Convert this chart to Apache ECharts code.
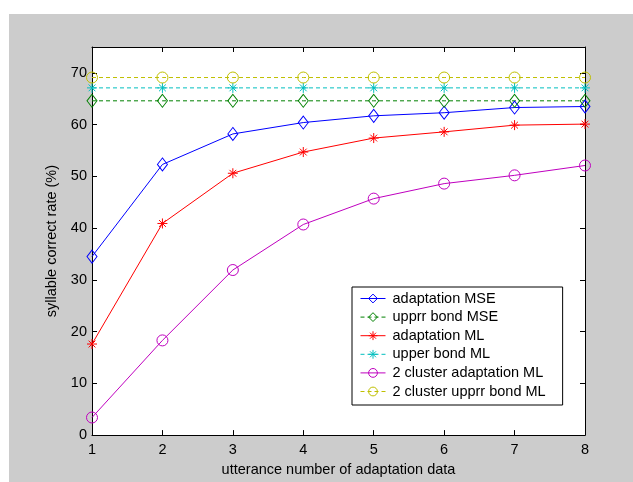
<!DOCTYPE html>
<html>
<head>
<meta charset="utf-8">
<script src="https://cdn.jsdelivr.net/npm/echarts@6/dist/echarts.min.js"></script>
<style>
html,body{margin:0;padding:0;background:#fff;}
#c{width:633px;height:482px;}
</style>
</head>
<body>
<div id="c"></div>
<script>
var xValues = [1, 2, 3, 4, 5, 6, 7, 8];
var xTicks = [1, 2, 3, 4, 5, 6, 7, 8];
var yTicks = [0, 10, 20, 30, 40, 50, 60, 70];
var seriesNames = ['adaptation MSE', 'upprr bond MSE', 'adaptation ML', 'upper bond ML', '2 cluster adaptation ML', '2 cluster upprr bond ML'];
var adaptMSE = [34.5, 52.3, 58.2, 60.4, 61.7, 62.3, 63.3, 63.5];
var upperMSE = [64.6, 64.6, 64.6, 64.6, 64.6, 64.6, 64.6, 64.6];
var adaptML = [17.6, 40.9, 50.6, 54.7, 57.4, 58.6, 59.9, 60.1];
var upperML = [67.1, 67.1, 67.1, 67.1, 67.1, 67.1, 67.1, 67.1];
var cluster2Adapt = [3.4, 18.3, 31.9, 40.7, 45.7, 48.6, 50.2, 52.1];
var cluster2Upper = [69.1, 69.1, 69.1, 69.1, 69.1, 69.1, 69.1, 69.1];

var FONT = "'Liberation Sans', Arial, sans-serif";
var FS = 14.5;
var DIAMOND = 'path://M5,0L10,6.5L5,13L0,6.5Z';
var STAR = 'path://M5,0L5,10M0,5L10,5M1.6,1.6L8.4,8.4M8.4,1.6L1.6,8.4';

function pairs(ys) {
  return xValues.map(function (x, i) { return [x, ys[i]]; });
}
function mk(name, ys, color, dashed, symbol, size) {
  return {
    name: name,
    type: 'line',
    data: pairs(ys),
    symbol: symbol,
    symbolSize: size,
    showSymbol: true,
    lineStyle: { color: color, width: 1, type: dashed ? [4, 3] : 'solid' },
    itemStyle: { color: 'rgba(0,0,0,0)', borderColor: color, borderWidth: 1 },
    emphasis: { disabled: true },
    z: 3
  };
}

var chart = echarts.init(document.getElementById('c'), null, { renderer: 'canvas' });
var axisCommon = {
  type: 'value',
  axisLine: { show: true, onZero: false, lineStyle: { color: '#000', width: 1 } },
  axisTick: { show: true, inside: true, length: 5, lineStyle: { color: '#000', width: 1 } },
  splitLine: { show: false }
};
chart.setOption({
  animation: false,
  backgroundColor: 'rgba(0,0,0,0)',
  graphic: [{
    type: 'rect', z: -100, silent: true,
    shape: { x: 9, y: 14, width: 624, height: 468 },
    style: { fill: '#cccccc' }
  }],
  grid: {
    left: 92, top: 47, width: 493, height: 390.5,
    show: true, backgroundColor: '#ffffff', borderWidth: 0
  },
  xAxis: [
    Object.assign({}, axisCommon, {
      position: 'bottom', min: 1, max: 8,
      axisTick: Object.assign({}, axisCommon.axisTick, { customValues: xTicks }),
      axisLabel: { customValues: xTicks, margin: 7, color: '#000', fontSize: FS, fontFamily: FONT },
      name: 'utterance number of adaptation data',
      nameLocation: 'middle', nameGap: 23,
      nameTextStyle: { color: '#000', fontSize: FS, fontFamily: FONT }
    }),
    Object.assign({}, axisCommon, {
      position: 'top', min: 1, max: 8,
      axisTick: Object.assign({}, axisCommon.axisTick, { customValues: xTicks }),
      axisLabel: { show: false }
    })
  ],
  yAxis: [
    Object.assign({}, axisCommon, {
      position: 'left', min: 0, max: 75,
      axisTick: Object.assign({}, axisCommon.axisTick, { customValues: yTicks }),
      axisLabel: { customValues: yTicks, margin: 5, color: '#000', fontSize: FS, fontFamily: FONT },
      name: 'syllable correct rate (%)',
      nameLocation: 'middle', nameGap: 29,
      nameTextStyle: { color: '#000', fontSize: FS, fontFamily: FONT }
    }),
    Object.assign({}, axisCommon, {
      position: 'right', min: 0, max: 75,
      axisTick: Object.assign({}, axisCommon.axisTick, { customValues: yTicks }),
      axisLabel: { show: false }
    })
  ],
  legend: {
    left: 352, top: 287,
    orient: 'vertical',
    data: seriesNames,
    backgroundColor: '#ffffff',
    borderColor: '#000', borderWidth: 1, borderRadius: 0,
    padding: [4, 17, 6, 8],
    itemWidth: 25, itemHeight: 11, itemGap: 3.6,
    lineStyle: { width: 1 },
    itemStyle: { borderWidth: 1 },
    textStyle: { color: '#000', fontSize: FS, fontFamily: FONT, padding: [0, 0, 0, 2] },
    selectedMode: false
  },
  series: [
    mk(seriesNames[0], adaptMSE, '#0000ff', false, DIAMOND, [10, 13]),
    mk(seriesNames[1], upperMSE, '#008000', true, DIAMOND, [10, 13]),
    mk(seriesNames[2], adaptML, '#ff0000', false, STAR, 10),
    mk(seriesNames[3], upperML, '#00bfbf', true, STAR, 10),
    mk(seriesNames[4], cluster2Adapt, '#bf00bf', false, 'circle', 11),
    mk(seriesNames[5], cluster2Upper, '#bfbf00', true, 'circle', 11)
  ]
});
</script>
</body>
</html>
